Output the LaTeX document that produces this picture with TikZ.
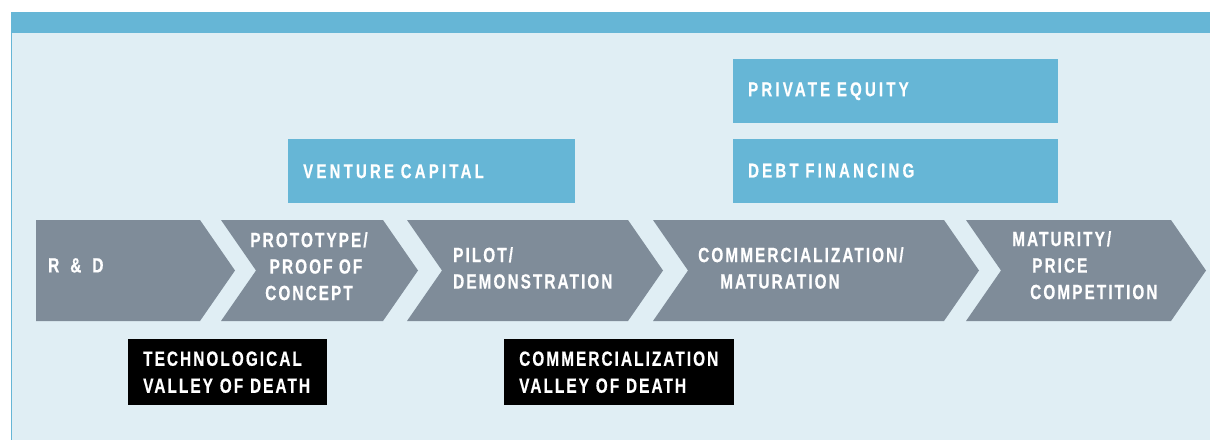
\documentclass[tikz,border=0pt]{standalone}
\usepackage{fontspec}
\setmainfont{Liberation Sans}
\newfontfamily\stagefont[FakeStretch=0.75,LetterSpace=10,FakeBold=0.5]{Liberation Sans}
\newfontfamily\fundfont[FakeStretch=0.75,LetterSpace=16,FakeBold=0.5]{Liberation Sans}
\usetikzlibrary{positioning}

\definecolor{panelblue}{RGB}{224,238,244}
\definecolor{barblue}{RGB}{102,182,214}
\definecolor{stagegrey}{RGB}{127,140,153}

\begin{document}
\begin{tikzpicture}[x=1pt,y=-1pt,
  stage/.style={fill=stagegrey},
  stagetext/.style={text=white,inner sep=0pt,font=\stagefont\bfseries\fontsize{20.5}{26.5}\selectfont},
  fundbox/.style={fill=barblue,text=white,font=\fundfont\bfseries\fontsize{20}{24}\selectfont,
    inner xsep=15pt,inner ysep=0pt,minimum height=64pt,align=left,anchor=north west},
  deathbox/.style={fill=black,text=white,font=\stagefont\bfseries\fontsize{20.5}{27}\selectfont,
    inner xsep=15pt,inner ysep=0pt,minimum height=66pt,align=left,anchor=north west}]

  \useasboundingbox (0,0) rectangle (1210,440);
  % panel and top bar
  \fill[panelblue] (11,12) rectangle (1210,440);
  \fill[barblue] (11,12) rectangle (1210,33);
  \draw[barblue,line width=1pt] (11.5,12) -- (11.5,440);

  % the stages: first one flat on the left, the others notched
  \fill[stage] (36,220) -- (200,220) -- (235,270.5) -- (200,321) -- (36,321) -- cycle;
  \foreach \a/\b in {221/383, 407/628, 653/944, 966/1171}
    \fill[stage] (\a,220) -- (\b,220) -- (\b+35,270.5) -- (\b,321) -- (\a,321) -- (\a+35,270.5) -- cycle;

  \node[stagetext,anchor=north west] (rd) at (48,258) {R\hspace{11pt}\&\hspace{11pt}D};
  \node[stagetext,anchor=north,align=center] (proto) at (309,232)
    {PROTOTYPE/\\\hspace*{14pt}PROOF OF\\CONCEPT};
  \node[stagetext,anchor=north west,align=left] (pilot) at (453,247) {PILOT/\\DEMONSTRATION};
  \node[stagetext,anchor=north west,align=left] (comm) at (698,247)
    {COMMERCIALIZATION/\\\hspace*{22pt}MATURATION};
  \node[stagetext,anchor=north west,align=left] (mature) at (1012,231)
    {MATURITY/\\\hspace*{20pt}PRICE\\\hspace*{18pt}COMPETITION};

  % funding
  \node[fundbox,text width=257pt] (venture) at (288,139) {VENTURE CAPITAL};
  \node[fundbox,text width=295pt] (equity) at (733,59) {PRIVATE EQUITY};
  \node[fundbox,text width=295pt,below=15pt of equity] (debt) {DEBT FINANCING};

  % valleys of death
  \node[deathbox,text width=169pt] (techvalley) at (128,339) {TECHNOLOGICAL\\VALLEY OF DEATH};
  \node[deathbox,text width=200pt] (commvalley) at (504,339) {COMMERCIALIZATION\\VALLEY OF DEATH};
\end{tikzpicture}
\end{document}
